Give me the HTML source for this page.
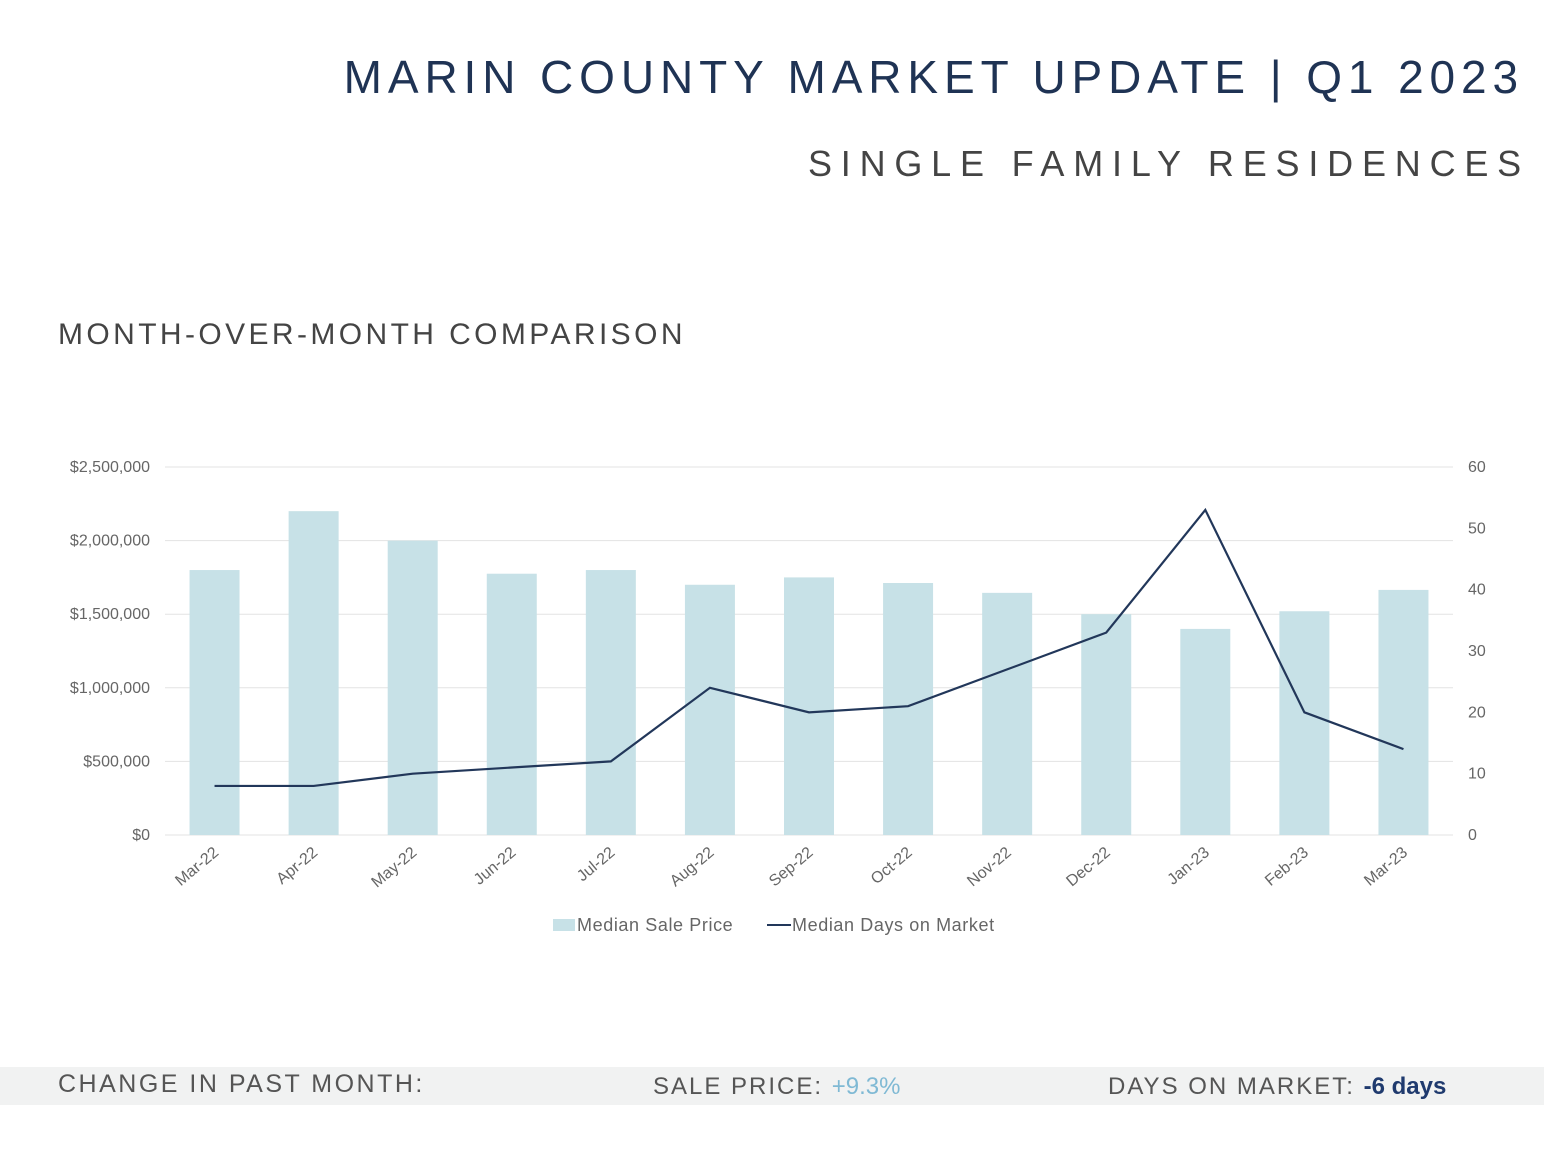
<!DOCTYPE html>
<html><head><meta charset="utf-8"><style>
body{margin:0;width:1544px;height:1154px;background:#fff;position:relative;overflow:hidden;font-family:"Liberation Sans",sans-serif;}
.t{position:absolute;white-space:nowrap;}
</style></head><body>
<div class="t" style="right:20px;top:50px;font-size:46px;letter-spacing:5.9px;color:#1f3354;">MARIN COUNTY MARKET UPDATE | Q1 2023</div>
<div class="t" style="right:14px;top:143px;font-size:36px;letter-spacing:8.8px;color:#444;">SINGLE FAMILY RESIDENCES</div>
<div class="t" style="left:58px;top:318px;font-size:30px;letter-spacing:3.4px;color:#444;">MONTH-OVER-MONTH COMPARISON</div>
<svg id="chart" width="1544" height="1154" style="position:absolute;left:0;top:0"></svg>
<div style="position:absolute;left:0;top:1067px;width:1544px;height:38px;background:#f1f2f2;"></div>
<div class="t" style="left:58px;top:1070px;font-size:25px;letter-spacing:2.5px;color:#555;">CHANGE IN PAST MONTH:</div>
<div class="t" style="left:653px;top:1073px;font-size:24px;letter-spacing:2px;color:#555;">SALE PRICE: <span style="color:#7fb9d4;letter-spacing:0">+9.3%</span></div>
<div class="t" style="left:1108px;top:1073px;font-size:24px;letter-spacing:2px;color:#555;">DAYS ON MARKET: <span style="color:#1f3a6e;letter-spacing:0;font-weight:bold">-6 days</span></div>
<script>
const categories=["Mar-22","Apr-22","May-22","Jun-22","Jul-22","Aug-22","Sep-22","Oct-22","Nov-22","Dec-22","Jan-23","Feb-23","Mar-23"];
const priceValues=[1800000,2200000,2000000,1775000,1800000,1700000,1750000,1712000,1645000,1500000,1400000,1520000,1665000];
const domValues=[8,8,10,11,12,24,20,21,27,33,53,20,14];
const leftTicks=[0,500000,1000000,1500000,2000000,2500000];
const leftTickLabels=["$0","$500,000","$1,000,000","$1,500,000","$2,000,000","$2,500,000"];
const rightTicks=[0,10,20,30,40,50,60];
const NS="http://www.w3.org/2000/svg";
const svg=document.getElementById('chart');
const x0=165,x1=1453,yB=835,yT=467;
const step=(x1-x0)/categories.length;
const xc=i=>x0+step*(i+0.5);
const yL=v=>yB-(v/2500000)*(yB-yT);
const yR=v=>yB-(v/60)*(yB-yT);
function mk(tag,attrs){const e=document.createElementNS(NS,tag);for(const k in attrs)e.setAttribute(k,attrs[k]);svg.appendChild(e);return e;}
leftTicks.forEach((v,i)=>{
 const g=mk('line',{x1:x0,x2:x1,y1:yL(v),y2:yL(v),stroke:'#e3e3e3','stroke-width':1});
 
 
 const t=mk('text',{x:150,y:yL(v)+5,'text-anchor':'end','font-size':16,fill:'#666','font-family':'Liberation Sans'});
 t.textContent=leftTickLabels[i];
 
 
});
rightTicks.forEach(v=>{
 const t=mk('text',{x:1468,y:yR(v)+5,'font-size':16,fill:'#666','font-family':'Liberation Sans'});
 t.textContent=v;
 
 
});
priceValues.forEach((v,i)=>{
 const r=mk('rect',{x:xc(i)-25,y:yL(v),width:50,height:yB-yL(v),fill:'#c7e1e7'});
 
 
});
const pts=domValues.map((v,i)=>xc(i)+','+yR(v)).join(' ');
const pl=mk('polyline',{points:pts,fill:'none',stroke:'#22375a','stroke-width':2.2});


categories.forEach((c,i)=>{
 const x=xc(i)+5,y=854;
 const t=mk('text',{x:x,y:y,'text-anchor':'end','font-size':16,fill:'#666','font-family':'Liberation Sans',transform:`rotate(-40 ${x} ${y})`});
 t.textContent=c;
 
 
});
const l1=mk('rect',{x:553,y:919,width:22,height:12,fill:'#c7e1e7'});


const lt1=mk('text',{x:577,y:931,'font-size':18,fill:'#666','font-family':'Liberation Sans','letter-spacing':0.6});
lt1.textContent='Median Sale Price';


const l2=mk('line',{x1:767,x2:791,y1:925,y2:925,stroke:'#22375a','stroke-width':2});


const lt2=mk('text',{x:792,y:931,'font-size':18,fill:'#666','font-family':'Liberation Sans','letter-spacing':0.6});
lt2.textContent='Median Days on Market';


</script>
</body></html>
